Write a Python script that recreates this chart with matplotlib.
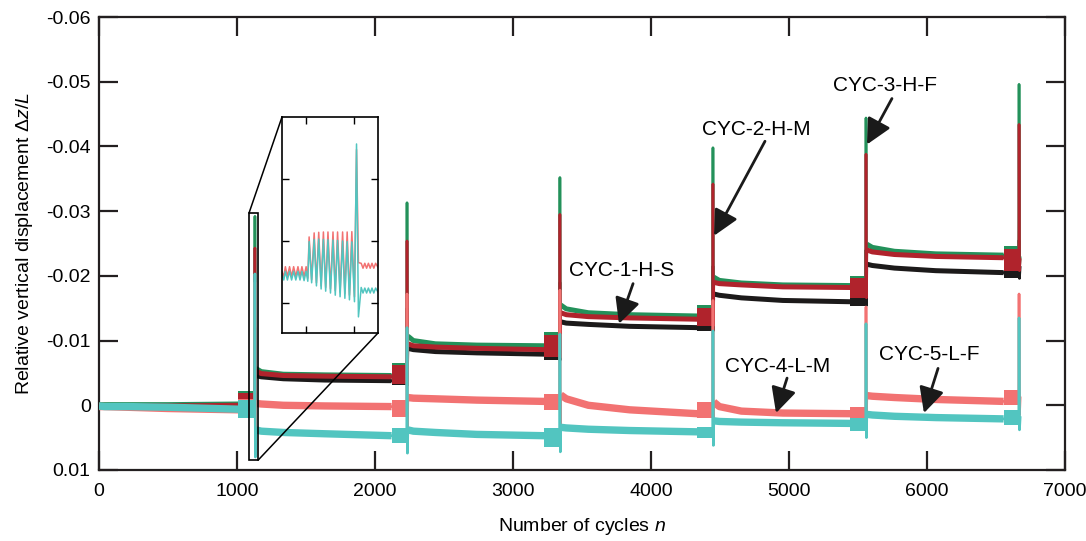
import matplotlib.pyplot as plt
from matplotlib.patches import Rectangle, ConnectionPatch

plt.rcParams['font.family'] = ['Liberation Sans', 'DejaVu Sans']
plt.rcParams['mathtext.fontset'] = 'custom'
plt.rcParams['mathtext.rm'] = 'Liberation Sans'
plt.rcParams['mathtext.it'] = 'Liberation Sans:italic'

# cycle where each new loading step starts (the spike)
spike_n = [1130, 2232, 3340, 4449, 5558, 6667]
# start of the large-amplitude band just before each spike
band_n = [1010, 2120, 3225, 4335, 5445, 6555]
# where the level is read inside a stage (cycles after stage start), last point = band start
stage_offsets = [0, 40, 200, 500]

# levels read per stage (stage 0 = before the first spike)
black_level = [[0.0003, 0.0003, 0.0003, 0.0004, 0.0005],
               [-0.0046, -0.0044, -0.0041, -0.0039, -0.0038],
               [-0.0088, -0.0086, -0.0083, -0.0081, -0.0079],
               [-0.0129, -0.0127, -0.0125, -0.0122, -0.0120],
               [-0.0172, -0.0170, -0.0166, -0.0162, -0.0160],
               [-0.0218, -0.0216, -0.0212, -0.0208, -0.0205]]
green_level = [[-0.0001, -0.0001, -0.0001, -0.0001, -0.0002],
               [-0.0057, -0.0052, -0.0048, -0.0047, -0.0046],
               [-0.0107, -0.0100, -0.0095, -0.0093, -0.0092],
               [-0.0155, -0.0149, -0.0143, -0.0140, -0.0138],
               [-0.0198, -0.0193, -0.0189, -0.0186, -0.0185],
               [-0.0249, -0.0244, -0.0238, -0.0234, -0.0232]]
red_level = [[0.0001, 0.0001, 0.0001, 0.0001, 0.0000],
             [-0.0053, -0.0049, -0.0046, -0.0045, -0.0044],
             [-0.0095, -0.0092, -0.0090, -0.0088, -0.0086],
             [-0.0143, -0.0140, -0.0137, -0.0135, -0.0133],
             [-0.0190, -0.0188, -0.0186, -0.0183, -0.0182],
             [-0.0240, -0.0237, -0.0233, -0.0230, -0.0228]]
salmon_level = [[0.0002, 0.0002, 0.0003, 0.0005, 0.0007],
                [-0.0003, -0.0002, 0.0000, 0.0001, 0.0002],
                [-0.0012, -0.0011, -0.0010, -0.0008, -0.0006],
                [-0.0016, -0.0010, 0.0000, 0.0007, 0.0013],
                [-0.0005, 0.0002, 0.0009, 0.0012, 0.0013],
                [-0.0015, -0.0014, -0.0012, -0.0009, -0.0006]]
cyan_level = [[0.0001, 0.0002, 0.0002, 0.0003, 0.0006],
              [0.0038, 0.0040, 0.0042, 0.0044, 0.0047],
              [0.0038, 0.0040, 0.0042, 0.0045, 0.0047],
              [0.0034, 0.0035, 0.0037, 0.0039, 0.0041],
              [0.0024, 0.0025, 0.0026, 0.0027, 0.0028],
              [0.0014, 0.0015, 0.0017, 0.0019, 0.0021]]

# (top, bottom) of the band before each spike
black_band = [(-0.0012, 0.0006), (-0.0050, -0.0031), (-0.0095, -0.0070),
              (-0.0140, -0.0115), (-0.0185, -0.0154), (-0.0230, -0.0196)]
green_band = [(-0.0022, -0.0005), (-0.0065, -0.0033), (-0.0113, -0.0076),
              (-0.0155, -0.0125), (-0.0200, -0.0168), (-0.0246, -0.0210)]
red_band = [(-0.0019, -0.0004), (-0.0063, -0.0033), (-0.0108, -0.0074),
            (-0.0150, -0.0123), (-0.0196, -0.0166), (-0.0242, -0.0208)]
salmon_band = [(-0.0009, 0.0015), (-0.0008, 0.0018), (-0.0018, 0.0008),
               (-0.0005, 0.0020), (0.0003, 0.0021), (-0.0023, 0.0000)]
cyan_band = [(-0.0008, 0.0020), (0.0035, 0.0058), (0.0035, 0.0065),
             (0.0033, 0.0051), (0.0020, 0.0040), (0.0008, 0.0030)]

# spike peaks and the rebound right after
black_peak = [-0.0120, -0.0150, -0.0190, -0.0215, -0.0240, -0.0255]
green_peak = [-0.0292, -0.0313, -0.0352, -0.0398, -0.0444, -0.0496]
red_peak = [-0.0243, -0.0254, -0.0295, -0.0342, -0.0388, -0.0434]
salmon_peak = [-0.0190, -0.0172, -0.0178, -0.0162, -0.0152, -0.0172]
cyan_peak = [-0.0203, -0.0120, -0.0110, -0.0115, -0.0126, -0.0135]
black_trough = [0.0006, -0.0031, -0.0070, -0.0115, -0.0154, -0.0196]
green_trough = [-0.0005, -0.0033, -0.0076, -0.0125, -0.0168, -0.0210]
red_trough = [-0.0004, -0.0033, -0.0074, -0.0123, -0.0166, -0.0208]
salmon_trough = [0.0050, 0.0035, 0.0035, 0.0030, 0.0020, 0.0015]
cyan_trough = [0.0080, 0.0074, 0.0072, 0.0062, 0.0050, 0.0038]

# inset: zoom on the first loading step (values x1e-3)
inset_n = [1080, 1081.5, 1082.8, 1084.5, 1086.3, 1088.0, 1089.7, 1091.5, 1093.3,
           1095.0, 1096.6, 1098.4, 1100.1, 1101.5, 1102.6, 1104.7, 1106.8, 1108.7,
           1110.6, 1112.6, 1114.5, 1116.4, 1118.3, 1120.4, 1122.5, 1124.4, 1126.3,
           1128.4, 1130.5, 1132.4, 1134.3, 1136.2, 1138.2, 1140.4, 1142.1, 1143.7,
           1146.0, 1147.5, 1149.0, 1150.5, 1152.0, 1153.5, 1155.0, 1156.5, 1158.0, 1160.0]
inset_salmon = [1.0, 1.15, 0.83, 1.15, 0.83, 1.15, 0.83, 1.15, 0.83, 1.15, 0.83, 1.15,
                0.83, 1.2, -0.13, 1.25, -0.26, 1.35, -0.28, 1.45, -0.29, 1.5, -0.29,
                1.55, -0.29, 1.6, -0.29, 1.65, -0.29, 1.7, -0.29, 1.75, -0.3, 1.8,
                -2.95, 0.7, 0.72, 0.88, 0.72, 0.88, 0.72, 0.88, 0.72, 0.88, 0.72, 0.85]
inset_cyan = [1.1, 1.26, 0.98, 1.26, 0.98, 1.26, 0.98, 1.26, 0.98, 1.26, 0.98, 1.28,
              0.98, 1.3, 0.02, 1.35, -0.05, 1.45, -0.06, 1.55, -0.05, 1.62, -0.04,
              1.68, -0.03, 1.75, -0.02, 1.8, 0.0, 1.85, 0.02, 1.9, 0.03, 1.96,
              -3.13, 2.45, 1.5, 1.68, 1.52, 1.68, 1.52, 1.68, 1.52, 1.68, 1.52, 1.65]

# colour, stage line width, data
series = [
    ('#1c1a1a', 3.6, black_level, black_band, black_peak, black_trough),
    ('#23915a', 3.6, green_level, green_band, green_peak, green_trough),
    ('#b0232c', 3.6, red_level, red_band, red_peak, red_trough),
    ('#f27272', 5.3, salmon_level, salmon_band, salmon_peak, salmon_trough),
    ('#52c5c0', 5.3, cyan_level, cyan_band, cyan_peak, cyan_trough),
]

fig = plt.figure(figsize=(10.86, 5.41), dpi=100)
ax = fig.add_axes([99 / 1086, 1 - 470 / 541, 966 / 1086, 453 / 541])

for z, (col, lw, level, band, peak, trough) in enumerate(series):
    n_all, v_all = [], []
    for k in range(6):
        s = 0 if k == 0 else spike_n[k - 1] + 6
        xs = [s + o for o in stage_offsets] + [band_n[k]]
        ax.plot(xs, level[k], color=col, lw=lw, solid_capstyle='butt', zorder=2 + z)
        top, bot = band[k]
        ax.fill_between([band_n[k], spike_n[k] - 1], [top, top], [bot, bot],
                        color=col, lw=0, zorder=2 + z)
        n_all += xs + [spike_n[k] - 2, spike_n[k], spike_n[k] + 3]
        v_all += list(level[k]) + [(top + bot) / 2, peak[k], trough[k]]
    n_all.append(spike_n[-1] + 8)
    v_all.append(sum(band[-1]) / 2)
    ax.plot(n_all, v_all, color=col, lw=1.9, zorder=2 + z)

ax.set_xlim(0, 7000)
ax.set_ylim(0.01, -0.06)
ax.set_xticks(range(0, 7001, 1000))
ax.set_yticks([0.01, 0, -0.01, -0.02, -0.03, -0.04, -0.05, -0.06])
ax.set_yticklabels(['0.01', '0', '-0.01', '-0.02', '-0.03', '-0.04', '-0.05', '-0.06'])
ax.tick_params(direction='in', length=14, width=1.6, top=True, right=True,
               labelsize=14, color='#231f20')
ax.tick_params(axis='x', pad=9)
ax.tick_params(axis='y', pad=6)
for sp in ax.spines.values():
    sp.set_linewidth(1.6)
    sp.set_color('#231f20')
ax.set_xlabel('Number of cycles $n$', fontsize=14, labelpad=12)
ax.set_ylabel(r'Relative vertical displacement $\Delta z/L$', fontsize=14, labelpad=8)

# zoom box and inset
box_n0, box_n1 = 1087, 1152
box_v0, box_v1 = -0.0297, 0.0085
ax.add_patch(Rectangle((box_n0, box_v0), box_n1 - box_n0, box_v1 - box_v0,
                       fill=False, ec='black', lw=1.2, zorder=10))
axins = fig.add_axes([282 / 1086, 1 - 333 / 541, 96 / 1086, 216 / 541])
axins.plot(inset_n, inset_salmon, color='#f27272', lw=1.1)
axins.plot(inset_n, inset_cyan, color='#52c5c0', lw=1.1)
axins.set_xlim(1080, 1160)
axins.set_ylim(2.97, -4.0)
axins.set_xticks([1100, 1140])
axins.set_yticks([-2, 0, 2])
axins.tick_params(direction='in', length=5, width=1.0, top=True, right=True,
                  labelbottom=False, labelleft=False)
for sp in axins.spines.values():
    sp.set_linewidth(1.2)
for xa, ya, xb, yb in [(box_n0, box_v0, 0, 1), (box_n1, box_v1, 1, 0)]:
    con = ConnectionPatch(xyA=(xa, ya), coordsA=ax.transData, xyB=(xb, yb),
                          coordsB=axins.transAxes, color='black', lw=1.1)
    fig.add_artist(con)

# labels with arrows: text position, arrow start, arrow tip
labels = ['CYC-1-H-S', 'CYC-2-H-M', 'CYC-3-H-F', 'CYC-4-L-M', 'CYC-5-L-F']
label_pos = [(3790, -0.0209), (4761, -0.0426), (5696, -0.0494), (4920, -0.0060), (6014, -0.0078)]
arrow_from = [(3870, -0.0188), (4826, -0.0408), (5746, -0.0474), (4986, -0.0042), (6080, -0.0057)]
arrow_to = [(3768, -0.0126), (4457, -0.0262), (5565, -0.0403), (4906, 0.0012), (5978, 0.0012)]
for txt, p, a, b in zip(labels, label_pos, arrow_from, arrow_to):
    ax.text(p[0], p[1], txt, fontsize=15, ha='center', va='center', zorder=12)
    ax.annotate('', xy=b, xytext=a, zorder=12,
                arrowprops=dict(arrowstyle='-|>,head_length=0.7,head_width=0.35',
                                mutation_scale=22, lw=2, color='#1a1a1a',
                                shrinkA=0, shrinkB=0))

fig.savefig('out.png', dpi=100)
